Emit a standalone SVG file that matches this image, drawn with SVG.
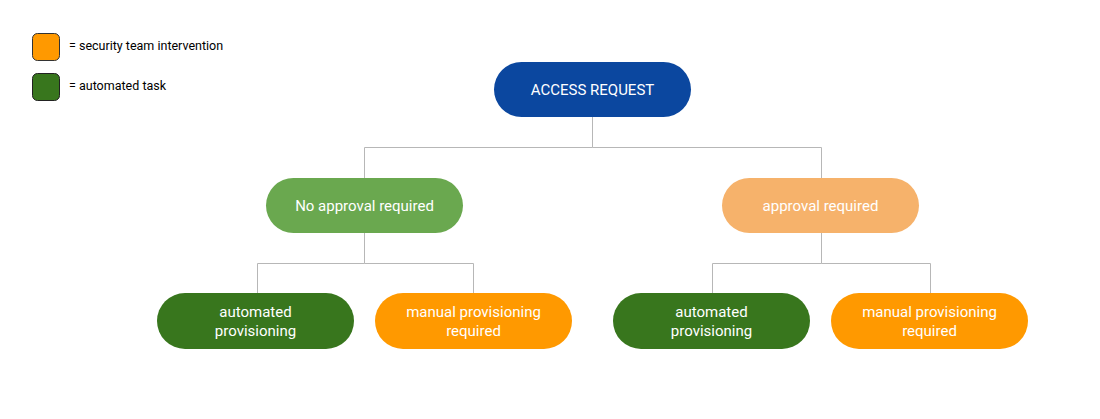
<svg xmlns="http://www.w3.org/2000/svg" width="1100" height="419" viewBox="0 0 1100 419">
<style>
text{font-family:Roboto,"Liberation Sans",sans-serif;font-size:15px;fill:#fff;text-anchor:middle}
.lg{font-size:12.5px;fill:#000;text-anchor:start}
.c{fill:none;stroke:#b7b7b7;stroke-width:1}
</style>
<rect width="1100" height="419" fill="#fff"/>
<g id="legend">
<rect x="32.5" y="33.5" width="27" height="27" rx="5" fill="#ff9900" stroke="#333"/>
<text class="lg" x="69" y="50">= security team intervention</text>
<rect x="32.5" y="73.5" width="27" height="27" rx="5" fill="#38761d" stroke="#222"/>
<text class="lg" x="69" y="90">= automated task</text>
</g>
<g id="connectors">
<path class="c" d="M592.5 117V147.5H364.5V178M592.5 147.5H821.5V178"/>
<path class="c" d="M364.5 233V263.5H257.5V293M364.5 263.5H473.5V293"/>
<path class="c" d="M821.5 233V263.5H712.5V293M821.5 263.5H930.5V293"/>
</g>
<g id="access"><rect x="494" y="62" width="197" height="55" rx="27.5" fill="#0b479f"/><text x="592.5" y="95">ACCESS REQUEST</text></g>
<g id="noapproval"><rect x="266" y="178" width="197" height="55" rx="27.5" fill="#6aa84f"/><text x="364.5" y="211">No approval required</text></g>
<g id="approval"><rect x="722" y="178" width="197" height="55" rx="27.5" fill="#f6b26b"/><text x="820.5" y="211">approval required</text></g>
<g id="auto1"><rect x="157" y="293" width="197" height="56" rx="28" fill="#38761d"/><text x="255.5" y="317">automated</text><text x="255.5" y="336">provisioning</text></g>
<g id="manual1"><rect x="375" y="293" width="197" height="56" rx="28" fill="#ff9900"/><text x="473.5" y="317">manual provisioning</text><text x="473.5" y="336">required</text></g>
<g id="auto2"><rect x="613" y="293" width="197" height="56" rx="28" fill="#38761d"/><text x="711.5" y="317">automated</text><text x="711.5" y="336">provisioning</text></g>
<g id="manual2"><rect x="831" y="293" width="197" height="56" rx="28" fill="#ff9900"/><text x="929.5" y="317">manual provisioning</text><text x="929.5" y="336">required</text></g>
</svg>
